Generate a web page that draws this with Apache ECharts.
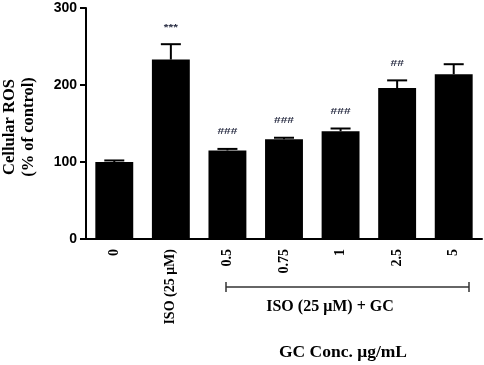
<!DOCTYPE html>
<html>
<head>
<meta charset="utf-8">
<script src="https://cdn.jsdelivr.net/npm/echarts@6/dist/echarts.min.js"></script>
<style>
    html, body { margin: 0; padding: 0; background: #fff; }
    #chart { width: 484px; height: 365px; }
</style>
</head>
<body>
<div id="chart"></div>
<script>
const categories = ['0', 'ISO (25 μM)', '0.5', '0.75', '1', '2.5', '5'];
const rosMean = [100, 233, 115, 129.5, 140, 196, 214];
const rosErr = [2, 20, 2, 2, 3.5, 10, 13];
const marks = ['', '***', '###', '###', '###', '##', ''];
const yTicks = [0, 100, 200, 300];

const serif = '"Liberation Serif", "DejaVu Serif", serif';
const sans = '"Liberation Sans", Arial, sans-serif';

const errData = categories.map((c, i) => [i, rosMean[i], rosMean[i] + rosErr[i]]);

const chart = echarts.init(document.getElementById('chart'));

const chartOptions = {
    animation: false,
    grid: { left: 86, right: 2, top: 8, bottom: 126 },
    xAxis: {
        type: 'category',
        data: categories,
        axisLine: { lineStyle: { color: '#000', width: 2 } },
        axisTick: { alignWithLabel: true, length: 5, lineStyle: { color: '#000', width: 2 } },
        axisLabel: {
            rotate: 90,
            color: '#000',
            fontFamily: serif,
            fontWeight: 'bold',
            fontSize: 14,
            margin: 10
        }
    },
    yAxis: {
        type: 'value',
        min: yTicks[0],
        max: yTicks[yTicks.length - 1],
        interval: 100,
        splitLine: { show: false },
        axisLine: { show: true, lineStyle: { color: '#000', width: 2 } },
        axisTick: { show: true, length: 6, lineStyle: { color: '#000', width: 2 } },
        axisLabel: {
            color: '#000',
            fontFamily: sans,
            fontWeight: 'bold',
            fontSize: 14,
            margin: 9
        }
    },
    series: [
        {
            type: 'bar',
            data: rosMean,
            barWidth: '67%',
            itemStyle: { color: '#000' }
        },
        {
            type: 'custom',
            data: errData,
            z: 5,
            renderItem: (params, api) => {
                const base = api.coord([api.value(0), api.value(1)]);
                const top = api.coord([api.value(0), api.value(2)]);
                const mark = marks[params.dataIndex];
                const stroke = { stroke: '#000', lineWidth: 2 };
                const children = [
                    { type: 'line', shape: { x1: base[0], y1: base[1], x2: top[0], y2: top[1] }, style: stroke },
                    { type: 'line', shape: { x1: top[0] - 10, y1: top[1], x2: top[0] + 10, y2: top[1] }, style: stroke }
                ];
                if (mark) {
                    children.push({
                        type: 'text',
                        x: top[0],
                        y: top[1] - 17,
                        scaleY: 0.75,
                        style: {
                            text: mark,
                            align: 'center',
                            verticalAlign: 'middle',
                            fill: '#2b2f45',
                            font: 'bold 12px ' + sans
                        }
                    });
                }
                return { type: 'group', children };
            }
        }
    ],
    graphic: [
        {
            type: 'text',
            x: 10, y: 127,
            rotation: Math.PI / 2,
            style: {
                text: 'Cellular ROS',
                align: 'center', verticalAlign: 'middle',
                fill: '#000',
                font: 'bold 16.5px ' + serif
            }
        },
        {
            type: 'text',
            x: 29, y: 127,
            rotation: Math.PI / 2,
            style: {
                text: '(% of control)',
                align: 'center', verticalAlign: 'middle',
                fill: '#000',
                font: 'bold 16.5px ' + serif
            }
        },
        {
            type: 'group',
            children: [
                { type: 'line', shape: { x1: 226, y1: 287, x2: 469, y2: 287 }, style: { stroke: '#333', lineWidth: 1.5 } },
                { type: 'line', shape: { x1: 226, y1: 282, x2: 226, y2: 292 }, style: { stroke: '#333', lineWidth: 1.5 } },
                { type: 'line', shape: { x1: 469, y1: 282, x2: 469, y2: 292 }, style: { stroke: '#333', lineWidth: 1.5 } }
            ]
        },
        {
            type: 'text',
            x: 330, y: 307,
            style: {
                text: 'ISO (25 μM) + GC',
                align: 'center', verticalAlign: 'middle',
                fill: '#000',
                font: 'bold 16px ' + serif
            }
        },
        {
            type: 'text',
            x: 343, y: 352,
            style: {
                text: 'GC Conc. μg/mL',
                align: 'center', verticalAlign: 'middle',
                fill: '#000',
                font: 'bold 17.5px ' + serif
            }
        }
    ]
};

chart.setOption(chartOptions);
</script>
</body>
</html>
